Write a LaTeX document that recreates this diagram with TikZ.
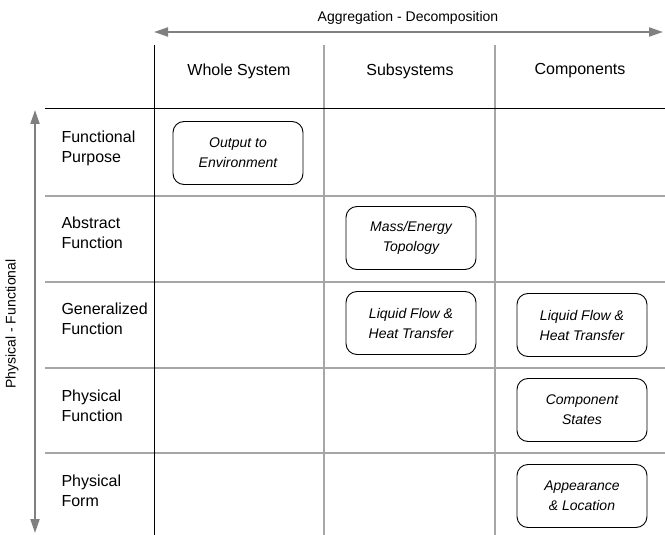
\documentclass[tikz,border=0pt]{standalone}
\usepackage{fontspec}
\setmainfont{Liberation Sans}
\usetikzlibrary{arrows.meta,positioning}

\begin{document}
\begin{tikzpicture}[x=1pt,y=-1pt,
  levelbox/.style={draw,line width=0.9pt,rounded corners=11pt,minimum width=130pt,minimum height=63pt,
    align=center,font=\fontsize{14}{20}\selectfont\itshape},
  rowlabel/.style={anchor=west,align=left,font=\fontsize{16}{20}\selectfont},
  collabel/.style={font=\fontsize{16}{20}\selectfont},
  gridline/.style={draw=black!35,line width=1.2pt},
  axisarrow/.style={draw=black!50,line width=2pt,
    {Triangle[length=14pt,width=9pt]}-{Triangle[length=14pt,width=9pt]}}]

  \useasboundingbox (0,0) rectangle (665,535);

  % table lines
  \foreach \x in {324,495}
    \draw[gridline] (\x,45) -- (\x,535);
  \foreach \y in {196,282,368,453}
    \draw[gridline] (45,\y) -- (665,\y);
  \draw[line width=1pt] (154,45) -- (154,535);
  \draw[line width=1pt] (45,109) -- (665,109);

  % axes
  \coordinate (aggL) at (154,32);
  \coordinate (aggR) at (663,32);
  \draw[axisarrow] (aggL) -- (aggR);
  \node[font=\fontsize{14}{16}\selectfont] (agg) at (408,18) {Aggregation - Decomposition};
  \coordinate (physT) at (35,110);
  \coordinate (physB) at (35,533);
  \draw[axisarrow] (physT) -- (physB);
  \node[rotate=90,font=\fontsize{14}{16}\selectfont] (phys) at (12,324) {Physical - Functional};

  % column headers
  \node[collabel] (whole) at (239,71) {Whole System};
  \node[collabel] (subs) at (410,71) {Subsystems};
  \node[collabel] (comps) at (580,71) {Components};

  % row headers
  \node[rowlabel] (purpose) at (58,148) {Functional\\Purpose};
  \node[rowlabel] (abstract) at (58,233) {Abstract\\Function};
  \node[rowlabel] (general) at (58,319) {Generalized\\Function};
  \node[rowlabel] (physfun) at (58,406) {Physical\\Function};
  \node[rowlabel] (physform) at (58,491) {Physical\\Form};

  % levels
  \node[levelbox] (output) at (238,153) {Output to\\Environment};
  \node[levelbox] (mass) at (411,238) {Mass/Energy\\Topology};
  \node[levelbox] (flowsub) at (411,323) {Liquid Flow \&\\Heat Transfer};
  \node[levelbox] (flowcomp) at (582,325) {Liquid Flow \&\\Heat Transfer};
  \node[levelbox] (states) at (582,410) {Component\\States};
  \node[levelbox] (appear) at (582,496) {Appearance\\\& Location};
\end{tikzpicture}
\end{document}
